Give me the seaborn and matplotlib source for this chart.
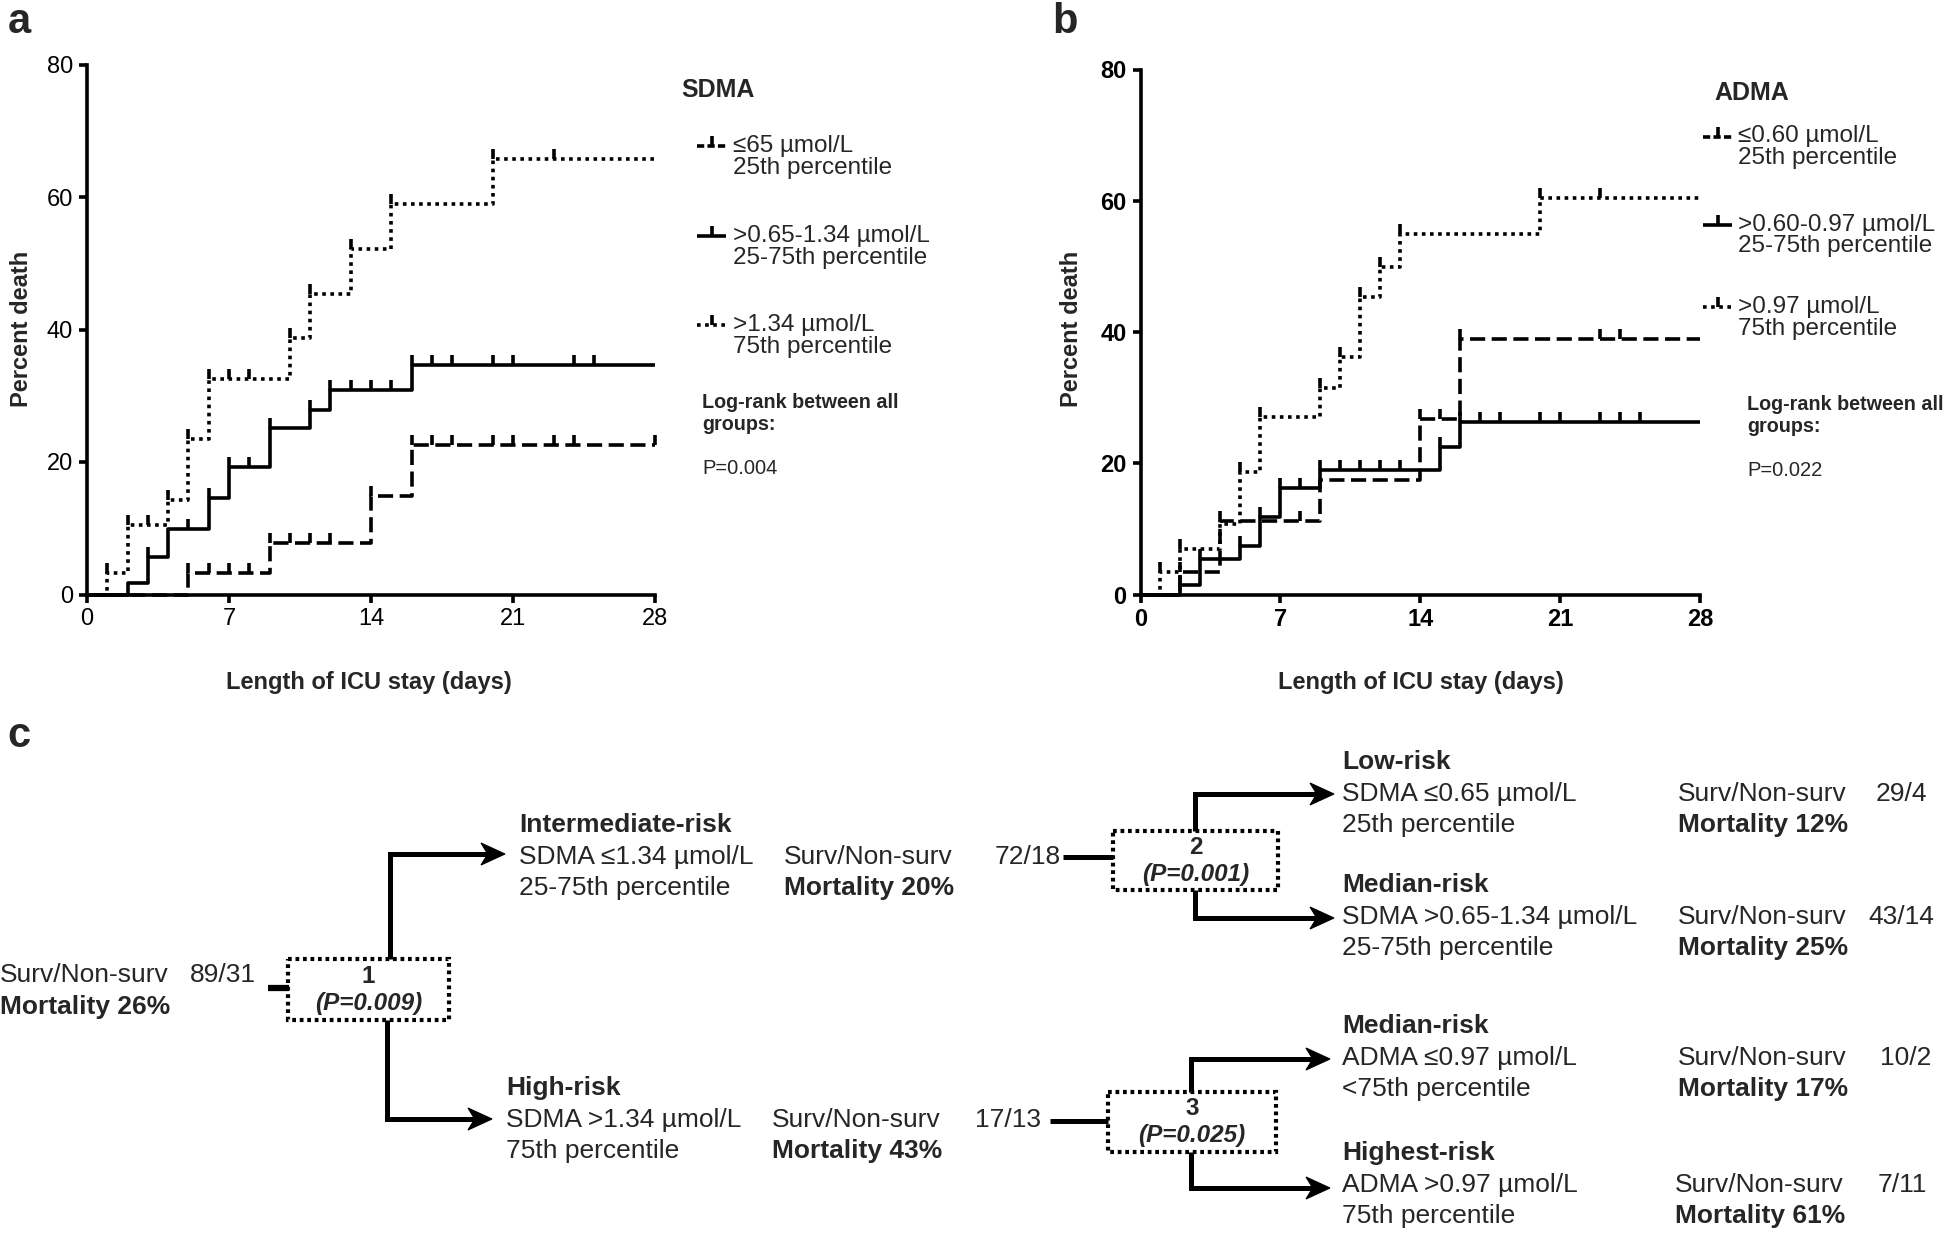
import numpy as np
import pandas as pd
import matplotlib
matplotlib.use("Agg")
import matplotlib.pyplot as plt
import seaborn as sns
from matplotlib.path import Path
from matplotlib.patches import Rectangle, Polygon
from matplotlib import font_manager

# ------------------------------------------------------------------ data
END_DAY = 28
x_ticks = [0, 7, 14, 21, 28]
y_ticks = [0, 20, 40, 60, 80]

# Panel a - SDMA
group_names = ["low", "mid", "high"]
sdma_labels = [("\u226465 \u00b5mol/L", "25th percentile"),
               (">0.65-1.34 \u00b5mol/L", "25-75th percentile"),
               (">1.34 \u00b5mol/L", "75th percentile")]
sdma_low_days = [0, 5, 9, 14, 16]
sdma_low_pct = [0, 3.3, 7.7, 14.8, 22.6]
sdma_low_cens = [5, 6, 7, 8, 9, 10, 11, 12, 14, 16, 17, 18, 20, 21, 23, 24, 28]
sdma_mid_days = [0, 2, 3, 4, 6, 7, 9, 11, 12, 16]
sdma_mid_pct = [0, 1.8, 5.7, 9.9, 14.5, 19.2, 25.1, 27.9, 30.9, 34.6]
sdma_mid_cens = [3, 5, 6, 7, 8, 9, 11, 12, 13, 14, 15, 16, 17, 18, 20, 21, 24, 25]
sdma_high_days = [0, 1, 2, 4, 5, 6, 10, 11, 13, 15, 20]
sdma_high_pct = [0, 3.3, 10.5, 14.3, 23.5, 32.5, 38.7, 45.4, 52.2, 59.0, 65.8]
sdma_high_cens = [1, 2, 3, 4, 5, 6, 7, 8, 10, 11, 13, 15, 20, 23]
sdma_title = "SDMA"
sdma_p = "P=0.004"

# Panel b - ADMA
adma_labels = [("\u22640.60 \u00b5mol/L", "25th percentile"),
               (">0.60-0.97 \u00b5mol/L", "25-75th percentile"),
               (">0.97 \u00b5mol/L", "75th percentile")]
adma_low_days = [0, 2, 4, 9, 14, 16]
adma_low_pct = [0, 3.5, 11.2, 17.5, 26.7, 39.0]
adma_low_cens = [2, 4, 8, 14, 15, 16, 23, 24]
adma_mid_days = [0, 2, 3, 5, 6, 7, 9, 15, 16]
adma_mid_pct = [0, 1.5, 5.4, 7.4, 11.8, 16.2, 19.0, 22.5, 26.3]
adma_mid_cens = [2, 3, 5, 6, 7, 8, 9, 10, 11, 12, 13, 15, 16, 17, 18, 20, 21, 23, 24, 25]
adma_high_days = [0, 1, 2, 4, 5, 6, 9, 10, 11, 12, 13, 20]
adma_high_pct = [0, 3.5, 6.9, 10.8, 18.6, 27.0, 31.4, 36.2, 45.4, 49.9, 54.9, 60.4]
adma_high_cens = [1, 2, 5, 6, 9, 10, 11, 12, 13, 20, 23]
adma_title = "ADMA"
adma_p = "P=0.022"

# Panel c - decision tree
root_counts = "89/31"
root_mortality = "Mortality 26%"
split_labels = ["1", "2", "3"]
split_pvalues = ["(P=0.009)", "(P=0.001)", "(P=0.025)"]
node_titles = ["Intermediate-risk", "High-risk", "Low-risk", "Median-risk", "Median-risk", "Highest-risk"]
node_conditions = ["SDMA \u22641.34 \u00b5mol/L", "SDMA >1.34 \u00b5mol/L", "SDMA \u22640.65 \u00b5mol/L",
                   "SDMA >0.65-1.34 \u00b5mol/L", "ADMA \u22640.97 \u00b5mol/L", "ADMA >0.97 \u00b5mol/L"]
node_percentiles = ["25-75th percentile", "75th percentile", "25th percentile",
                    "25-75th percentile", "<75th percentile", "75th percentile"]
node_counts = ["72/18", "17/13", "29/4", "43/14", "10/2", "7/11"]
node_mortality = ["Mortality 20%", "Mortality 43%", "Mortality 12%", "Mortality 25%",
                  "Mortality 17%", "Mortality 61%"]

# ------------------------------------------------------------------ style
W, H = 1946, 1233
sns.set_theme(style="ticks")
avail = {f.name for f in font_manager.fontManager.ttflist}
SANS = "Liberation Sans" if "Liberation Sans" in avail else "DejaVu Sans"
plt.rcParams["font.family"] = [SANS, "DejaVu Sans"]
plt.rcParams["axes.linewidth"] = 2.6
plt.rcParams["xtick.major.width"] = 2.6
plt.rcParams["ytick.major.width"] = 2.6
plt.rcParams["xtick.major.size"] = 6
plt.rcParams["ytick.major.size"] = 6
plt.rcParams["xtick.color"] = "black"
plt.rcParams["ytick.color"] = "black"
plt.rcParams["axes.edgecolor"] = "black"

LW = 2.6
DASHES = {"low": (4.2, 1.8), "mid": "", "high": (1.0, 1.25)}
LEG_LS = {"low": (0, (2.0, 0.9)), "mid": "-", "high": (0, (1.0, 1.25))}
TICK_MARK = Path([(0, 0), (0, 1)], [Path.MOVETO, Path.LINETO])

fig = plt.figure(figsize=(W / 100, H / 100), dpi=100)


def fig_rect(x0, y_top, x1, y_bot):
    return [x0 / W, 1 - y_bot / H, (x1 - x0) / W, (y_bot - y_top) / H]


def km_frame(days, pct, name):
    return pd.DataFrame({"day": list(days) + [END_DAY],
                         "pct": list(pct) + [pct[-1]],
                         "group": name})


def draw_km(ax, series, bold):
    frames = [km_frame(d, p, n) for n, d, p, c in series]
    df = pd.concat(frames, ignore_index=True)
    sns.lineplot(data=df, x="day", y="pct", hue="group", style="group",
                 hue_order=group_names, style_order=group_names,
                 palette={n: "black" for n in group_names}, dashes=DASHES,
                 drawstyle="steps-post", estimator=None, sort=False,
                 legend=False, lw=LW, ax=ax, clip_on=False)
    for line in ax.lines:
        line.set_dash_capstyle("butt")
        line.set_solid_capstyle("butt")
    for n, d, p, c in series:
        idx = np.searchsorted(d, c, side="right") - 1
        cy = np.asarray(p)[idx]
        ax.plot(c, cy, ls="none", marker=TICK_MARK, ms=14, mew=LW,
                color="black", clip_on=False)
    ax.set_xlim(0, END_DAY)
    ax.set_ylim(0, 80)
    ax.set_xticks(x_ticks)
    ax.set_yticks(y_ticks)
    ax.set_xlabel("")
    ax.set_ylabel("")
    sns.despine(ax=ax)
    ax.tick_params(labelsize=17, pad=4)
    for lab in ax.get_xticklabels() + ax.get_yticklabels():
        lab.set_fontweight("bold" if bold else "normal")


ax_a = fig.add_axes(fig_rect(87, 64.5, 655, 594.5))
draw_km(ax_a, [("low", sdma_low_days, sdma_low_pct, sdma_low_cens),
               ("mid", sdma_mid_days, sdma_mid_pct, sdma_mid_cens),
               ("high", sdma_high_days, sdma_high_pct, sdma_high_cens)], bold=False)

ax_b = fig.add_axes(fig_rect(1140.5, 69.5, 1700, 594.5))
draw_km(ax_b, [("low", adma_low_days, adma_low_pct, adma_low_cens),
               ("mid", adma_mid_days, adma_mid_pct, adma_mid_cens),
               ("high", adma_high_days, adma_high_pct, adma_high_cens)], bold=True)

# ------------------------------------------------------------------ overlay (pixel coords)
ov = fig.add_axes([0, 0, 1, 1], zorder=5)
ov.set_xlim(0, W)
ov.set_ylim(H, 0)
ov.axis("off")

# panel letters
for lt, (x, y) in zip(["a", "b", "c"], [(19, 22), (1065, 22), (19, 736)]):
    ov.text(x, y, lt, fontsize=30, fontweight="bold", ha="center", va="center")

# axis labels
for x, y in [(22, 329), (1072, 329)]:
    ov.text(x, y, "Percent death", rotation=90, fontsize=17, fontweight="bold",
            ha="center", va="center")
for x, y in [(369, 683), (1421, 683)]:
    ov.text(x, y, "Length of ICU stay (days)", fontsize=17, fontweight="bold",
            ha="center", va="center")


def draw_legend(title, tx, ty, labels, sx0, sx1, txt_x, rows, lr_x, lr_y, pval):
    ov.text(tx, ty, title, fontsize=18, fontweight="bold", ha="left", va="center")
    for name, (l1, l2), (ys, y1, y2) in zip(group_names, labels, rows):
        ov.plot([sx0, sx1], [ys, ys], color="black", lw=LW, ls=LEG_LS[name],
                dash_capstyle="butt", solid_capstyle="butt")
        ov.plot([(sx0 + sx1) / 2], [ys], ls="none", marker=TICK_MARK, ms=14,
                mew=LW, color="black")
        ov.text(txt_x, y1, l1, fontsize=17.5, ha="left", va="center")
        ov.text(txt_x, y2, l2, fontsize=17.5, ha="left", va="center")
    ov.text(lr_x, lr_y, "Log-rank between all", fontsize=14.2, fontweight="bold",
            ha="left", va="center")
    ov.text(lr_x, lr_y + 22, "groups:", fontsize=14.2, fontweight="bold",
            ha="left", va="center")
    ov.text(lr_x, lr_y + 66, pval, fontsize=14.5, ha="left", va="center")


draw_legend(sdma_title, 681, 90, sdma_labels, 697, 726, 733,
            [(146, 146, 168), (236, 236, 258), (325, 325, 347)], 702, 403, sdma_p)
draw_legend(adma_title, 1714, 93, adma_labels, 1703, 1732, 1738,
            [(137, 136, 158), (225, 225, 246), (307, 307, 329)], 1747, 404, adma_p)

# ------------------------------------------------------------------ decision tree
FS = 19
HEAD_L, HEAD_HW = 24, 11


def arrow_path(pts):
    xs = [p[0] for p in pts]
    ys = [p[1] for p in pts]
    xt, yt = xs[-1], ys[-1]
    xs[-1] = xt - HEAD_L * 0.6
    ov.plot(xs, ys, color="black", lw=3.6, solid_joinstyle="miter",
            solid_capstyle="butt")
    ov.add_patch(Polygon([(xt, yt), (xt - HEAD_L, yt - HEAD_HW),
                          (xt - HEAD_L * 0.72, yt), (xt - HEAD_L, yt + HEAD_HW)],
                         closed=True, fc="black", ec="black", lw=0.8,
                         joinstyle="miter"))


def split_box(x0, y0, x1, y1, label, pval):
    ov.add_patch(Rectangle((x0, y0), x1 - x0, y1 - y0, fill=False, lw=3.0,
                           ls=(0, (0.9, 0.9)), ec="black"))
    cx = (x0 + x1) / 2
    ov.text(cx, y0 + (y1 - y0) * 0.28, label, fontsize=17.5, fontweight="bold",
            ha="center", va="center")
    ov.text(cx, y0 + (y1 - y0) * 0.73, pval, fontsize=17.5, fontweight="bold",
            style="italic", ha="center", va="center")


def node(x, y_title, title, cond, pct, sx, cx_, counts, mort):
    ov.text(x, y_title, title, fontsize=FS, fontweight="bold", ha="left", va="center")
    ov.text(x, y_title + 32, cond, fontsize=FS, ha="left", va="center")
    ov.text(x, y_title + 63, pct, fontsize=FS, ha="left", va="center")
    ov.text(sx, y_title + 32, "Surv/Non-surv", fontsize=FS, ha="left", va="center")
    ov.text(cx_, y_title + 32, counts, fontsize=FS, ha="left", va="center")
    ov.text(sx, y_title + 63, mort, fontsize=FS, fontweight="bold", ha="left", va="center")


# root
ov.text(0, 975, "Surv/Non-surv", fontsize=FS, ha="left", va="center")
ov.text(190, 975, root_counts, fontsize=FS, ha="left", va="center")
ov.text(0, 1007, root_mortality, fontsize=FS, fontweight="bold", ha="left", va="center")
ov.plot([268, 289], [988, 988], color="black", lw=4.5, solid_capstyle="butt")

split_box(288, 959, 449, 1020, split_labels[0], split_pvalues[0])
arrow_path([(390, 959), (390, 854), (505, 854)])
arrow_path([(387, 1020), (387, 1119), (492, 1119)])

node(519, 825, node_titles[0], node_conditions[0], node_percentiles[0], 784, 995,
     node_counts[0], node_mortality[0])
node(506, 1088, node_titles[1], node_conditions[1], node_percentiles[1], 772, 975,
     node_counts[1], node_mortality[1])

# split 2
ov.plot([1063, 1113], [857, 857], color="black", lw=3.6, solid_capstyle="butt")
split_box(1113, 831, 1278, 890, split_labels[1], split_pvalues[1])
arrow_path([(1195, 831), (1195, 794), (1334, 794)])
arrow_path([(1195, 890), (1195, 918), (1334, 918)])
node(1342, 762, node_titles[2], node_conditions[2], node_percentiles[2], 1678, 1876,
     node_counts[2], node_mortality[2])
node(1342, 885, node_titles[3], node_conditions[3], node_percentiles[3], 1678, 1868,
     node_counts[3], node_mortality[3])

# split 3
ov.plot([1050, 1108], [1121, 1121], color="black", lw=3.6, solid_capstyle="butt")
split_box(1108, 1092, 1276, 1152, split_labels[2], split_pvalues[2])
arrow_path([(1191, 1092), (1191, 1059), (1330, 1059)])
arrow_path([(1191, 1152), (1191, 1188), (1330, 1188)])
node(1342, 1026, node_titles[4], node_conditions[4], node_percentiles[4], 1678, 1880,
     node_counts[4], node_mortality[4])
node(1342, 1153, node_titles[5], node_conditions[5], node_percentiles[5], 1675, 1878,
     node_counts[5], node_mortality[5])

fig.savefig("out.png", dpi=100, facecolor="white")
